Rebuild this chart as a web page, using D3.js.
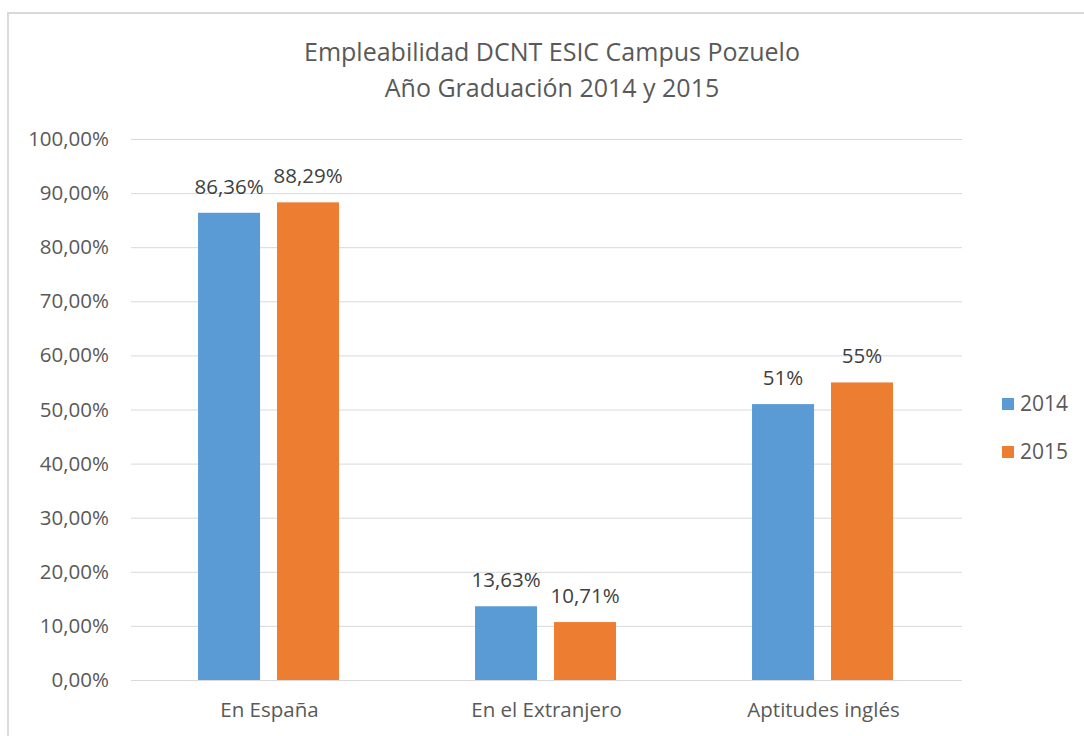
<!DOCTYPE html>
<html>
<head>
<meta charset="utf-8">
<script src="https://cdn.jsdelivr.net/npm/d3@7"></script>
<style>
  body { margin: 0; background: #fff; }
  svg { font-family: 'Open Sans', 'Noto Sans', sans-serif; }
</style>
</head>
<body>
<div class="container"></div>
<script>
const categories = ['En España', 'En el Extranjero', 'Aptitudes inglés'];
const seriesNames = ['2014', '2015'];
const values2014 = [86.36, 13.63, 51];
const values2015 = [88.29, 10.71, 55];
const labels2014 = ['86,36%', '13,63%', '51%'];
const labels2015 = ['88,29%', '10,71%', '55%'];
const yTicks = [0, 10, 20, 30, 40, 50, 60, 70, 80, 90, 100];
const colors = ['#5b9bd5', '#ed7d31'];

const w = 1084;
const h = 736;

const margin = {
    top: 139,
    right: 122,
    bottom: 56,
    left: 131
};

const svg = d3.select('.container')
    .append('svg')
    .attr('width', w)
    .attr('height', h);

// chart border
svg.append('rect')
    .attr('x', 8)
    .attr('y', 13)
    .attr('width', w + 20)
    .attr('height', h + 20)
    .attr('fill', '#fff')
    .attr('stroke', '#d9d9d9')
    .attr('stroke-width', 2);

svg.append('text')
    .attr('x', 552)
    .attr('y', 61)
    .attr('text-anchor', 'middle')
    .style('font-size', '25px')
    .style('fill', '#595959')
    .text('Empleabilidad DCNT ESIC Campus Pozuelo');

svg.append('text')
    .attr('x', 552)
    .attr('y', 97)
    .attr('text-anchor', 'middle')
    .style('font-size', '25px')
    .style('fill', '#595959')
    .text('Año Graduación 2014 y 2015');

const x0 = d3.scaleBand()
    .domain(categories)
    .range([margin.left, w - margin.right]);

const x1 = d3.scaleBand()
    .domain(seriesNames)
    .range([x0.bandwidth() * 0.242, x0.bandwidth() * 0.751])
    .paddingInner(0.215);

const y = d3.scaleLinear()
    .domain([0, 100])
    .range([h - margin.bottom, margin.top]);

// gridlines
svg.append('g')
    .selectAll('line')
    .data(yTicks)
    .join('line')
    .attr('x1', margin.left)
    .attr('x2', w - margin.right)
    .attr('y1', d => y(d) + 0.5)
    .attr('y2', d => y(d) + 0.5)
    .attr('stroke', '#d9d9d9')
    .attr('stroke-width', 1);

// y axis labels
const yAxis = svg.append('g')
    .attr('transform', `translate(${margin.left - 22},0)`)
    .call(d3.axisLeft(y).tickValues(yTicks).tickSize(0).tickPadding(0)
        .tickFormat(d => d.toFixed(2).replace('.', ',') + '%'));
yAxis.select('.domain').remove();
yAxis.selectAll('text')
    .style('font-size', '20.5px')
    .style('font-family', "'Open Sans', sans-serif")
    .style('fill', '#595959');

// x axis labels
const xAxis = svg.append('g')
    .attr('transform', `translate(0,${h - margin.bottom + 14})`)
    .call(d3.axisBottom(x0).tickSize(0).tickPadding(8));
xAxis.select('.domain').remove();
xAxis.selectAll('text')
    .style('font-size', '20.5px')
    .style('font-family', "'Open Sans', sans-serif")
    .style('fill', '#595959');

const data = categories.map((c, i) => ({
    category: c,
    items: [
        { name: '2014', value: values2014[i], label: labels2014[i] },
        { name: '2015', value: values2015[i], label: labels2015[i] }
    ]
}));

const groups = svg.append('g')
    .selectAll('g')
    .data(data)
    .join('g')
    .attr('transform', d => `translate(${x0(d.category)},0)`);

groups.selectAll('rect')
    .data(d => d.items)
    .join('rect')
    .attr('x', d => x1(d.name))
    .attr('width', x1.bandwidth())
    .attr('y', d => y(d.value))
    .attr('height', d => y(0) - y(d.value))
    .attr('fill', (d, i) => colors[i]);

groups.selectAll('text')
    .data(d => d.items)
    .join('text')
    .attr('x', d => x1(d.name) + x1.bandwidth() / 2)
    .attr('y', d => y(d.value) - 19)
    .attr('text-anchor', 'middle')
    .style('font-size', '20.5px')
    .style('fill', '#404040')
    .text(d => d.label);

// legend
const legend = svg.append('g')
    .selectAll('g')
    .data(seriesNames)
    .join('g')
    .attr('transform', (d, i) => `translate(1002,${398 + i * 48})`);

legend.append('rect')
    .attr('width', 12)
    .attr('height', 12)
    .attr('fill', (d, i) => colors[i]);

legend.append('text')
    .attr('x', 18)
    .attr('y', 13)
    .style('font-size', '21px')
    .style('fill', '#595959')
    .text(d => d);
</script>
</body>
</html>
